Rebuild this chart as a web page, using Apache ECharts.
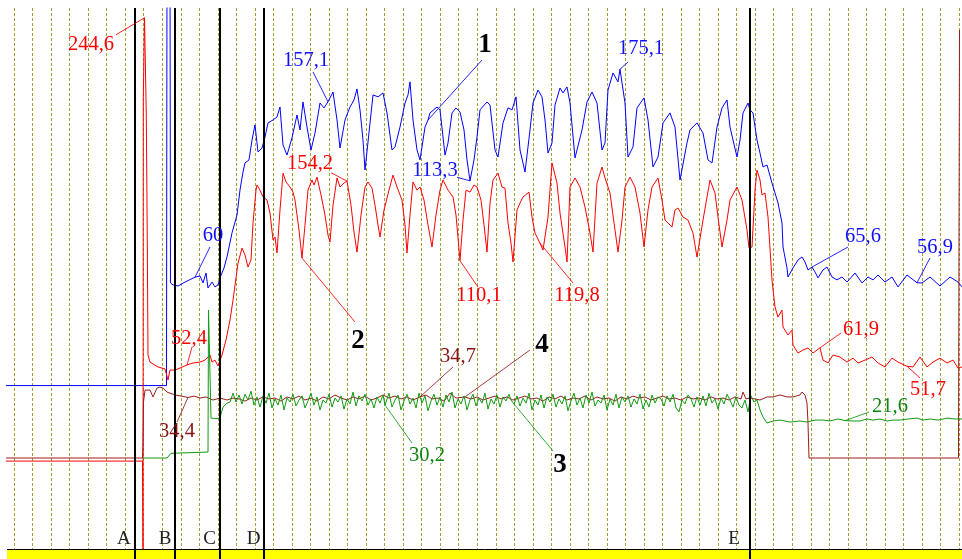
<!DOCTYPE html>
<html><head><meta charset="utf-8">
<script src="https://cdn.jsdelivr.net/npm/echarts@6/dist/echarts.min.js"></script>
<style>html,body{margin:0;padding:0;background:#fff}#c{width:962px;height:559px}</style>
</head><body><div id="c"></div>
<script>
// ---- event markers (time units) ----
const eventTimes = [134.3, 175, 219.3, 264, 749.3];
const eventLabels = ['A', 'B', 'C', 'D', 'E'];

// ---- channel 1 (blue), own scale ----
const blueData = [[6,0],[166.5,0],[167,235],[170,235],[170.5,56.8],[173,55.7],[178,55.1],[185,57.3],[195,60],[200,60.7],[203,56.8],[206,62.3],[208,54.0],[212,57.3],[215,54.6],[218,55.7],[220,59.6],[224,65.1],[227,71.2],[232,84.5],[237,94.4],[240,108.3],[243,118.2],[245,123.2],[249,124.9],[252,135.9],[255,144.3],[258,129.3],[262,131.5],[265,137.6],[268,145.4],[273,147.0],[277,148.7],[280,154.2],[283,133.2],[287,127.6],[292,137.1],[297,149.8],[300,141.5],[303,157.0],[307,143.1],[311,130.4],[315,139.8],[320,156.4],[324,153.7],[328,157.1],[333,162.5],[337,147.0],[340,131.5],[345,147.0],[350,154.2],[354,158.1],[357,164.2],[360,152.6],[363,135.9],[365,119.3],[368,134.8],[373,160.9],[378,159.8],[383,162.0],[387,150.9],[392,130.4],[395,132.1],[400,143.1],[405,156.4],[408,160.9],[410,168.1],[413,147.0],[417,130.4],[420,124.9],[425,143.1],[428,147.0],[430,150.9],[437,154.2],[440,152.6],[445,127.6],[448,134.3],[452,150.9],[456,153.7],[460,151.4],[464,141.5],[467,124.9],[470,113.3],[474,124.9],[477,137.6],[480,152.6],[487,157.0],[490,155.3],[495,130.4],[498,126.5],[503,145.4],[508,153.7],[512,152.6],[516,159.8],[520,130.4],[525,118.2],[530,141.5],[533,156.4],[538,163.6],[542,159.8],[545,147.0],[548,128.7],[552,134.3],[555,155.3],[560,164.7],[563,162.0],[567,165.3],[570,156.4],[575,126.0],[577,124.9],[582,141.5],[587,157.0],[592,162.5],[597,156.4],[602,130.4],[605,134.3],[608,163.6],[613,173.0],[618,168.1],[620,175.1],[622,174.7],[625,156.4],[628,126.5],[633,132.1],[637,153.7],[644,159.2],[648,147.0],[653,121.0],[658,126.5],[663,145.4],[670,150.9],[675,143.1],[680,113.8],[687,134.3],[690,141.5],[697,145.4],[703,139.8],[708,124.9],[712,123.2],[717,143.1],[722,153.7],[727,158.1],[730,143.1],[737,126.5],[740,135.9],[743,150.9],[748,156.4],[750,152.6],[753,150.9],[757,135.9],[760,128.7],[763,121.0],[767,122.1],[772,112.1],[775,106.6],[778,101.1],[782,90.0],[783,76.7],[787,65.1],[788,60.1],[793,65.1],[798,69.5],[802,71.2],[805,68.4],[808,64.0],[812,65.6],[815,62.9],[818,59.6],[823,64.0],[827,65.6],[832,60.1],[837,58.5],[842,60.1],[847,57.3],[855,62.3],[862,56.8],[868,60.1],[873,58.5],[878,61.2],[885,57.3],[892,60.1],[898,54.6],[907,61.2],[917,56.9],[922,56.8],[930,60.1],[940,55.1],[950,60.1],[958,57.3],[962,54.6]];

// ---- channel 2 (red) ----
const redData = [[6,-0.8],[142.5,-0.8],[143,-49.5],[143.3,200],[144.5,244.6],[146.3,190.2],[147.3,120],[148,57.9],[150,54.0],[158,51.3],[165,50.2],[168,44.1],[170,49.6],[175,49.6],[180,50.7],[187,52.4],[193,53.5],[200,54.0],[205,55.1],[210,57.9],[212,54.0],[215,55.1],[218,51.8],[222,57.9],[226,66.2],[230,77.3],[233,88.3],[238,108.8],[242,117.1],[245,113.3],[248,106.6],[251,110.5],[253,131.0],[256,149.2],[257,152.0],[260,149.2],[263,145.4],[267,143.7],[270,136.5],[273,121.6],[275,123.2],[277,114.4],[280,138.2],[283,158.6],[286,153.7],[290,150.9],[293,148.1],[295,143.7],[299,127.1],[302,111.6],[305,129.9],[308,149.2],[312,154.8],[314,152.0],[317,156.4],[321,146.5],[325,135.4],[328,124.3],[330,120.4],[333,140.9],[337,155.9],[340,150.9],[344,153.1],[347,154.2],[351,140.9],[354,126.0],[357,114.9],[361,135.4],[365,150.9],[368,153.7],[372,150.3],[375,140.9],[378,129.9],[380,123.2],[384,138.2],[389,149.2],[393,157.5],[397,150.9],[402,143.7],[405,129.9],[407,114.4],[410,135.4],[413,153.7],[417,149.2],[420,150.9],[424,143.7],[428,129.9],[432,117.7],[436,135.4],[440,149.2],[443,154.8],[448,149.2],[453,145.4],[456,135.4],[460,110.1],[463,132.6],[466,149.2],[470,148.1],[474,152.0],[477,150.9],[481,143.7],[484,129.9],[487,114.9],[490,142.0],[493,154.8],[498,158.6],[502,150.9],[505,150.3],[508,131.0],[511,119.9],[513,109.4],[517,138.2],[520,142.0],[523,145.4],[529,148.1],[532,134.3],[535,125.4],[540,119.8],[543,116.0],[548,134.3],[552,164.2],[553,162.0],[557,153.1],[560,136.5],[565,117.7],[567,109.4],[570,150.9],[575,155.9],[580,150.9],[585,139.8],[590,125.4],[593,114.9],[597,153.1],[602,162.0],[605,155.9],[610,147.6],[615,127.1],[618,114.9],[622,132.6],[625,150.9],[630,156.4],[635,150.9],[640,136.5],[644,117.7],[648,138.2],[652,150.9],[658,155.9],[662,143.7],[665,132.6],[672,128.8],[675,138.2],[678,139.3],[683,134.3],[688,132.6],[693,125.4],[697,112.1],[703,132.6],[710,154.8],[715,147.6],[718,134.3],[722,117.7],[727,132.6],[730,143.7],[737,150.9],[742,143.7],[747,127.1],[749,117.1],[752,117.7],[755,149.2],[757,160.3],[760,154.8],[762,146.5],[765,147.6],[768,134.3],[772,99.4],[775,84.5],[778,78.9],[782,82.8],[783,73.4],[788,69.0],[792,71.7],[793,63.4],[798,59.0],[803,60.7],[808,61.8],[813,59.0],[820,61.9],[823,55.1],[828,53.5],[833,57.9],[840,56.8],[847,54.0],[853,56.2],[858,53.5],[865,55.1],[872,56.8],[878,53.5],[885,51.3],[892,56.2],[898,54.0],[907,51.7],[913,51.3],[920,56.8],[927,51.3],[933,54.0],[940,56.2],[947,53.5],[953,55.1],[958,50.7],[962,51.3]];

// ---- channel 3 (green) ----
const greenData = [[143,0.9],[167,0.9],[171,3.5],[208,4.2],[208.5,82.8],[210.5,82.8],[211,23.0],[217,22.7],[220,23.2],[223,29.1],[227,31.3],[230,31.8],[233,36.8],[236,31.9],[239,35.8],[242,30.8],[245,36.2],[248,33.0],[251,37.9],[254,30.2],[257,34.7],[260,29.1],[263,35.3],[266,31.3],[269,36.8],[272,28.6],[275,33.6],[278,30.2],[281,35.8],[284,27.5],[287,34.1],[290,31.9],[293,36.2],[296,29.7],[299,33.0],[302,35.3],[305,28.6],[308,32.5],[311,36.8],[314,30.2],[317,34.7],[320,27.5],[323,33.0],[326,31.3],[329,36.2],[332,29.1],[335,34.1],[338,31.9],[341,35.3],[344,28.0],[347,33.6],[350,30.8],[353,37.4],[356,29.7],[359,35.3],[362,32.5],[365,36.2],[368,30.2],[371,33.6],[374,28.6],[377,34.7],[380,31.3],[383,35.8],[385,30.2],[389,36.8],[392,29.1],[395,33.0],[398,35.8],[401,27.5],[404,32.5],[407,36.2],[410,30.8],[413,34.1],[416,28.6],[419,36.8],[422,31.3],[425,35.3],[428,27.0],[431,32.5],[434,36.2],[437,30.2],[440,34.7],[443,29.1],[446,35.8],[449,31.9],[452,37.4],[455,28.6],[458,33.6],[461,30.8],[464,35.3],[467,27.5],[470,33.0],[473,36.2],[476,29.7],[479,34.1],[482,31.3],[485,36.8],[488,28.0],[491,33.6],[494,30.8],[497,35.8],[500,29.1],[503,34.7],[506,32.5],[509,36.2],[511,33.0],[514,30.8],[517,35.3],[520,29.7],[523,34.1],[526,31.3],[529,36.8],[532,27.5],[535,33.0],[538,30.2],[541,35.8],[544,28.6],[547,34.7],[550,31.9],[553,36.2],[556,29.1],[559,33.6],[562,30.8],[565,35.3],[568,27.0],[571,32.5],[574,36.8],[577,30.2],[580,34.1],[583,28.6],[586,35.8],[589,31.3],[592,37.4],[595,29.7],[598,33.0],[601,31.3],[604,35.8],[607,27.5],[610,33.6],[613,30.2],[616,36.2],[619,28.6],[622,34.7],[625,31.9],[628,35.3],[631,29.1],[634,33.6],[637,30.8],[640,36.2],[643,28.0],[646,33.0],[649,29.1],[652,35.8],[655,31.3],[658,34.7],[661,33.6],[664,29.7],[667,35.3],[670,31.9],[673,36.2],[676,28.6],[679,26.4],[682,33.0],[685,30.8],[688,35.8],[691,33.6],[694,29.1],[697,34.7],[700,30.2],[703,35.3],[706,29.7],[709,36.8],[712,31.3],[715,33.6],[718,28.0],[721,34.1],[724,30.8],[727,36.2],[730,33.0],[733,29.1],[736,34.7],[739,30.2],[742,28.6],[745,33.0],[748,26.4],[751,35.3],[754,31.9],[757,33.0],[760,27.5],[763,23.6],[767,20.3],[773,21.4],[780,21.9],[790,20.8],[800,21.4],[807,20.8],[815,21.9],[823,21.9],[830,21.4],[838,22.5],[845,21.6],[852,21.4],[860,21.4],[867,22.5],[873,21.9],[880,22.5],[887,21.4],[893,21.9],[900,21.9],[908,22.5],[917,23.0],[923,21.9],[930,22.5],[938,21.9],[947,23.0],[955,22.5],[962,22.5]];

// ---- channel 4 (brown) ----
const brownData = [[6,0.9],[142.5,0.9],[143,8.1],[143.5,32.0],[145,38.5],[147,37.4],[150,38.5],[153,34.7],[157,39.6],[160,40.2],[163,39.6],[167,37.4],[170,36.8],[175,35.8],[181,35.2],[188,34.4],[194,35.2],[200,34.1],[206,34.7],[213,33.0],[220,34.1],[227,33.0],[233,34.1],[239,33.6],[245,32.4],[251,34.1],[257,33.0],[263,34.7],[269,33.6],[275,34.1],[281,32.4],[287,34.7],[293,33.6],[299,35.2],[305,33.0],[311,34.1],[317,32.4],[323,34.7],[329,33.6],[335,35.8],[341,34.1],[347,33.0],[353,34.7],[359,33.6],[365,35.2],[371,33.0],[377,34.1],[383,35.8],[389,34.1],[395,35.2],[401,33.6],[407,34.7],[413,33.0],[420,34.7],[426,35.8],[432,33.6],[438,34.1],[444,32.4],[450,36.8],[456,34.1],[465,34.7],[471,33.6],[477,34.7],[483,33.0],[489,34.1],[495,35.2],[501,33.6],[507,34.7],[513,33.0],[519,34.1],[525,35.2],[531,33.6],[537,34.1],[543,32.4],[549,34.7],[555,33.6],[561,35.2],[567,33.0],[573,34.1],[579,33.6],[585,35.2],[591,33.0],[597,34.7],[603,33.6],[609,34.1],[615,32.4],[621,34.7],[627,33.6],[633,35.2],[639,34.1],[645,34.7],[651,33.0],[657,34.1],[663,35.2],[669,33.6],[675,34.1],[681,33.0],[687,34.7],[693,33.6],[699,34.1],[705,33.0],[711,34.7],[717,33.6],[723,34.1],[729,33.0],[735,34.7],[741,33.6],[743,37.4],[746,33.6],[750,34.1],[755,33.6],[760,33.0],[767,34.7],[773,34.7],[780,35.8],[787,34.7],[793,34.7],[800,35.8],[802,37.4],[805,35.8],[807,31.3],[808,20.3],[809,0.9],[958.5,0.9],[959.5,237.8]];

// ---- annotations: text, channel, annotated point, leader end, text centre (data units) ----
const annotations = [
  {text:'244,6', ch:'red',   at:[144.5,244.6], lead:[116,235.2], pos:[91,230.0]},
  {text:'154,2', ch:'red',   at:[347,154.2], lead:[331,158.8], pos:[310,163.6]},
  {text:'52,4',  ch:'red',   at:[187,52.4],  lead:[192,62.3],  pos:[189,66.8]},
  {text:'110,1', ch:'red',   at:[460,110.1], lead:[478,95.5],  pos:[479,90.6]},
  {text:'119,8', ch:'red',   at:[540,119.8], lead:[573,97.8],  pos:[577,90.6]},
  {text:'61,9',  ch:'red',   at:[820,61.9],  lead:[841,70.1],  pos:[861,71.7]},
  {text:'51,7',  ch:'red',   at:[907,51.7],  lead:[920,45.2],  pos:[928,38.5]},
  {text:'2',     ch:'red',   at:[302,111.6], lead:[355,76.2],  pos:[358,65.6], bold:true},
  {text:'157,1', ch:'blue',  at:[328,157.1], lead:[313,173.6], pos:[306,179.7]},
  {text:'175,1', ch:'blue',  at:[620,175.1], lead:[628,179.1], pos:[641,186.3]},
  {text:'113,3', ch:'blue',  at:[470,113.3], lead:[457,115.3], pos:[435,118.8]},
  {text:'60',    ch:'blue',  at:[195,60],    lead:[210,76.7],  pos:[213,82.8]},
  {text:'65,6',  ch:'blue',  at:[812,65.6],  lead:[848,76.7],  pos:[863,82.3]},
  {text:'56,9',  ch:'blue',  at:[917,56.9],  lead:[930,70.6],  pos:[935,76.2]},
  {text:'1',     ch:'blue',  at:[428,147.0], lead:[482,180.2], pos:[485,188.5], bold:true},
  {text:'34,4',  ch:'brown', at:[188,34.4],  lead:[177,20.8],  pos:[177,15.3]},
  {text:'34,7',  ch:'brown', at:[420,34.7],  lead:[453,51.3],  pos:[458,56.8]},
  {text:'4',     ch:'brown', at:[465,34.7],  lead:[530,60.7],  pos:[542,63.4], bold:true},
  {text:'30,2',  ch:'green', at:[385,30.2],  lead:[412,9.2],   pos:[427,2.5]},
  {text:'3',     ch:'green', at:[514,30.8],  lead:[553,4.8],   pos:[560,-3.0], bold:true},
  {text:'21,6',  ch:'green', at:[845,21.6],  lead:[869,26.3],  pos:[890,29.1]}
];

const CH = {
  blue:  {axis:1, line:'#0000ff', text:'#1010ff', data: blueData},
  red:   {axis:0, line:'#ff0000', text:'#ff0000', data: redData},
  brown: {axis:0, line:'#9a1c1c', text:'#861414', data: brownData},
  green: {axis:0, line:'#129a12', text:'#108410', data: greenData}
};
const SERIF = "'Liberation Serif','Times New Roman',serif";

const series = [];
// gridline helper series (empty)
series.push({type:'line', xAxisIndex:1, yAxisIndex:2, data:[], silent:true});

['blue','red','brown','green'].forEach(k => {
  series.push({
    name:k, type:'line', xAxisIndex:0, yAxisIndex:CH[k].axis,
    data: CH[k].data, showSymbol:false, symbol:'none', silent:true,
    lineStyle:{color:CH[k].line, width:1}, z:3
  });
});

// event markers
series.push({
  type:'scatter', xAxisIndex:0, yAxisIndex:0, silent:true, z:4,
  symbolSize:1, itemStyle:{color:'rgba(0,0,0,0)', opacity:1},
  data: eventTimes.map((t,i) => ({value:[t,-44.2], name:eventLabels[i],
        label:{distance: eventLabels[i]==='E' ? 9 : 3}})),
  label:{show:true, position:'left', formatter:p => p.name,
         color:'#222222', fontFamily:SERIF, fontSize:19},
  markLine:{silent:true, symbol:['none','none'], animation:false,
    label:{show:false}, lineStyle:{color:'#000', width:2, type:'solid', opacity:1},
    data: eventTimes.map(t => ({xAxis:t}))}
});

// annotations
annotations.forEach(a => {
  const c = CH[a.ch];
  series.push({
    type:'scatter', xAxisIndex:0, yAxisIndex:c.axis, silent:true, z:5,
    symbolSize:1, itemStyle:{color:'rgba(0,0,0,0)', opacity:1},
    data:[{value:a.pos}],
    label:{show:true, position:[0.5,0.5], align:'center', verticalAlign:'middle',
      formatter:a.text, textBorderWidth:0,
      color: a.bold ? '#000000' : c.text, fontFamily:SERIF,
      fontSize: a.bold ? 27 : 20.5, fontWeight: a.bold ? 'bold' : 'normal'},
    markLine:{silent:true, symbol:['none','none'], animation:false,
      label:{show:false}, lineStyle:{color:c.line, width:1, type:'solid', opacity:0.85},
      data:[[{coord:a.at},{coord:a.lead}]]}
  });
});

const chart = echarts.init(document.getElementById('c'));
chart.setOption({
  animation:false,
  backgroundColor:'#ffffff',
  grid:[
    {left:6, right:0, top:8, bottom:0},
    {left:14, right:3, top:8, bottom:10}
  ],
  xAxis:[
    {type:'value', gridIndex:0, min:6, max:962, show:false},
    {type:'value', gridIndex:1, min:0, max:51, interval:1,
     axisLine:{show:false}, axisTick:{show:false}, axisLabel:{show:false},
     splitLine:{show:true, lineStyle:{color:'#a0a036', width:1, type:[3,2]}}}
  ],
  yAxis:[
    {type:'value', gridIndex:0, min:-55, max:250, show:false},
    {type:'value', gridIndex:0, min:-96, max:209, show:false},
    {type:'value', gridIndex:1, min:0, max:1, show:false}
  ],
  graphic:[
    {type:'rect', z:1, silent:true, shape:{x:7, y:549.5, width:955, height:9.5}, style:{fill:'#ffff00'}},
    {type:'line', z:1, silent:true, shape:{x1:7, y1:549.5, x2:962, y2:549.5}, style:{stroke:'#000', lineWidth:1}}
  ],
  series: series
});
</script></body></html>
